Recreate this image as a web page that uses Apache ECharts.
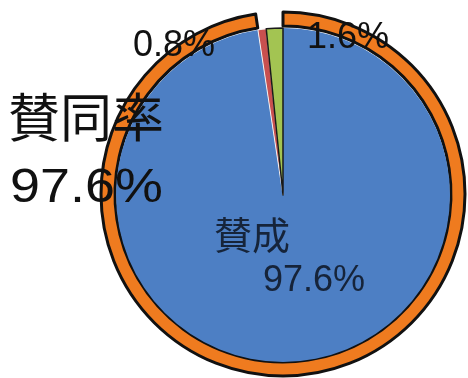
<!DOCTYPE html>
<html>
<head>
<meta charset="utf-8">
<script src="https://cdn.jsdelivr.net/npm/echarts@6/dist/echarts.min.js"></script>
<style>
  html, body { margin: 0; padding: 0; background: #fff; }
  #chart { width: 468px; height: 378px; }
</style>
</head>
<body>
<div id="chart"></div>
<script>
// 投票結果（%）
const categories = ['賛成', '反対', 'その他']
const values = [97.6, 0.8, 1.6]
const sliceColors = ['#4d7fc4', '#c9504f', '#a3c452']
// 外側のリング：賛同率
const approvalLabel = '賛同率'
const approvalRate = 97.6

const chart = echarts.init(document.getElementById('chart'))
const latin = '"Liberation Sans", Arial, sans-serif'
const cjk = '"Noto Sans CJK JP", sans-serif'

const option = {
  backgroundColor: '#ffffff',
  animation: false,
  series: [
    {
      // リング
      type: 'pie',
      center: [283, 194],
      radius: [168, 182],
      startAngle: 90,
      clockwise: true,
      silent: true,
      label: { show: false },
      labelLine: { show: false },
      data: [
        { value: approvalRate, itemStyle: { color: '#ef7b1f', borderColor: '#111', borderWidth: 3 } },
        { value: 100 - approvalRate, itemStyle: { color: 'transparent', borderWidth: 0 } }
      ]
    },
    {
      type: 'pie',
      center: [283, 195],
      radius: [0, 167],
      startAngle: 90,
      clockwise: true,
      silent: true,
      label: { show: false },
      labelLine: { show: false },
      data: categories.map((name, i) => {
        const style = { color: sliceColors[i] }
        if (i === 1) { style.borderColor = '#f2f2f2'; style.borderWidth = 1 }
        if (i === 2) { style.borderColor = '#1a1a1a'; style.borderWidth = 1.5 }
        return { name: name, value: values[i], itemStyle: style }
      })
    }
  ],
  graphic: [
    { type: 'text', left: 207, top: -40, z: 100,
      style: { text: categories[1], font: '38px ' + cjk, fill: '#111' } },
    { type: 'text', left: 133, top: 28, z: 100,
      style: { text: values[1].toFixed(1) + '%', font: '36px ' + latin, fill: '#111' } },
    { type: 'text', left: 307, top: 20, z: 100,
      style: { text: values[2].toFixed(1) + '%', font: '36px ' + latin, fill: '#111' } },
    { type: 'text', left: 8, top: 91, z: 100,
      style: { text: approvalLabel, font: '52px ' + cjk, fill: '#111' } },
    { type: 'text', left: 10, top: 164, z: 100, scaleX: 1.1,
      style: { text: approvalRate.toFixed(1) + '%', font: '49px ' + latin, fill: '#111' } },
    { type: 'text', left: 214, top: 216, z: 100,
      style: { text: categories[0], font: '38px ' + cjk, fill: '#16243a' } },
    { type: 'text', left: 263, top: 263, z: 100,
      style: { text: values[0].toFixed(1) + '%', font: '36px ' + latin, fill: '#16243a' } }
  ]
}

chart.setOption(option)
</script>
</body>
</html>
